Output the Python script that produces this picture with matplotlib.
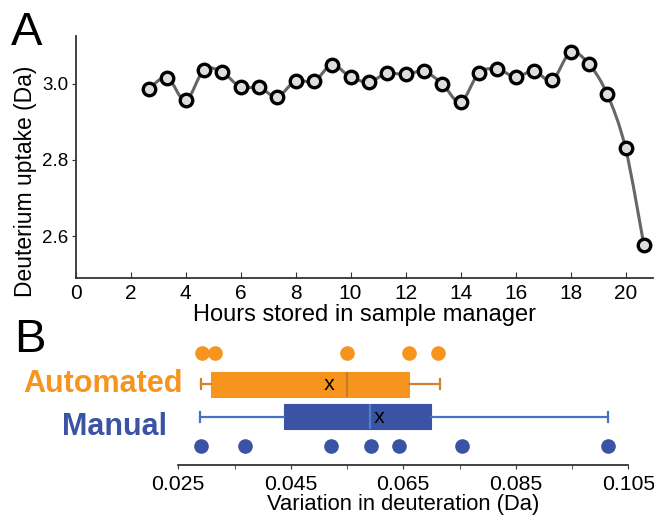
import numpy as np
import matplotlib
matplotlib.use("Agg")
import matplotlib.pyplot as plt
from matplotlib.path import Path
from matplotlib.patches import PathPatch

plt.rcParams['font.family'] = ['Liberation Sans', 'DejaVu Sans']
plt.rcParams['mathtext.fontset'] = 'custom'
plt.rcParams['mathtext.sf'] = 'Liberation Sans'

# --- Panel A data ---
hours = [2.67, 3.33, 4.0, 4.67, 5.33, 6.0, 6.67, 7.33, 8.0, 8.67, 9.33, 10.0, 10.67, 11.33,
         12.0, 12.67, 13.33, 14.0, 14.67, 15.33, 16.0, 16.67, 17.33, 18.0, 18.67, 19.33,
         20.0, 20.67]
uptake = [2.987, 3.016, 2.956, 3.036, 3.030, 2.991, 2.990, 2.966, 3.007, 3.006, 3.049, 3.017,
          3.005, 3.027, 3.024, 3.032, 3.000, 2.952, 3.028, 3.038, 3.018, 3.033, 3.009, 3.082,
          3.051, 2.973, 2.831, 2.576]

# --- Panel B data ---
groups = ['Automated', 'Manual']
auto_points = [0.0293, 0.0316, 0.0550, 0.0660, 0.0712]
manual_points = [0.0290, 0.0369, 0.0521, 0.0592, 0.0642, 0.0755, 0.1014]
# box stats: whislo, q1, med, q3, whishi, mean
auto_box = [0.0290, 0.0309, 0.0550, 0.0661, 0.0715, 0.0518]
manual_box = [0.0289, 0.0438, 0.0590, 0.0699, 0.1014, 0.0606]

ORANGE = '#F7941D'
BLUE = '#3A53A4'
W, H = 654, 516

fig = plt.figure(figsize=(W / 100, H / 100), dpi=100)

def fig_rect(left, top, right, bottom):
    return [left / W, 1 - bottom / H, (right - left) / W, (bottom - top) / H]

# ---------- Panel A ----------
ax = fig.add_axes(fig_rect(75.6, 36, 653, 278))

# smoothed line (catmull-rom drawn as bezier through the data points)
x = np.array(hours)
y = np.array(uptake)
verts = [(x[0], y[0])]
codes = [Path.MOVETO]
for i in range(len(x) - 1):
    p0 = np.array([x[max(i - 1, 0)], y[max(i - 1, 0)]])
    p1 = np.array([x[i], y[i]])
    p2 = np.array([x[i + 1], y[i + 1]])
    p3 = np.array([x[min(i + 2, len(x) - 1)], y[min(i + 2, len(x) - 1)]])
    c1 = p1 + (p2 - p0) / 6
    c2 = p2 - (p3 - p1) / 6
    verts += [tuple(c1), tuple(c2), tuple(p2)]
    codes += [Path.CURVE4] * 3
ax.add_patch(PathPatch(Path(verts, codes), facecolor='none', edgecolor='#666666', lw=2.2, zorder=2))
ax.plot(hours, uptake, ls='none', marker='o', ms=9, mew=2.4, mec='black', mfc='#dddddd', zorder=3)

ax.set_xlim(0, 21)
ax.set_ylim(2.49, 3.125)
ax.set_xticks(range(0, 21, 2))
ax.set_yticks([2.6, 2.8, 3.0])
ax.set_yticklabels(['2.6', '2.8', '3.0'])
ax.spines[['top', 'right']].set_visible(False)
for s in ['left', 'bottom']:
    ax.spines[s].set_color('#333333')
    ax.spines[s].set_linewidth(1.3)
ax.tick_params(axis='x', direction='in', length=4, labelsize=15, pad=4, color='#333333')
ax.tick_params(axis='y', direction='out', length=3, labelsize=13.5, pad=2, color='#333333')
ax.set_xlabel('Hours stored in sample manager', fontsize=17, labelpad=1)
fig.text(26 / W, 1 - 181 / H, 'Deuterium uptake (Da)', rotation=90, fontsize=16.5,
         ha='center', va='center')
fig.text(27 / W, 1 - 33 / H, 'A', fontsize=34, ha='center', va='center')

# ---------- Panel B ----------
bx = fig.add_axes(fig_rect(178.3, 340, 628.3, 465))
bx.set_xlim(0.025, 0.105)
bx.set_ylim(0, 5)

pos_box = {'Automated': 3.24, 'Manual': 1.94}
pos_pts = {'Automated': 4.48, 'Manual': 0.76}
styles = {
    'Automated': (auto_box, auto_points, ORANGE, '#C97A2A', '#D4812F'),
    'Manual': (manual_box, manual_points, BLUE, '#4F7FC9', '#4472C4'),
}
for g in groups:
    b, pts, col, medc, whc = styles[g]
    stats = [dict(whislo=b[0], q1=b[1], med=b[2], q3=b[3], whishi=b[4], mean=b[5], fliers=[])]
    bx.bxp(stats, positions=[pos_box[g]], vert=False, widths=1.0, patch_artist=True,
           showmeans=True, manage_ticks=False,
           boxprops=dict(facecolor=col, edgecolor=col, lw=0.8),
           medianprops=dict(color=medc, lw=1.6),
           whiskerprops=dict(color=whc, lw=1.6),
           capprops=dict(color=whc, lw=1.6),
           meanprops=dict(marker=r'$\mathsf{x}$', markeredgecolor='none',
                          markerfacecolor='black', markersize=8, mew=0),
           capwidths=0.4)
    bx.plot(pts, [pos_pts[g]] * len(pts), ls='none', marker='o', ms=9.5, color=col, zorder=3)

bx.set_xticks([0.025, 0.045, 0.065, 0.085, 0.105])
bx.set_xticklabels(['0.025', '0.045', '0.065', '0.085', '0.105'])
bx.set_xticks([0.035, 0.055, 0.075, 0.095], minor=True)
bx.set_yticks([])
for s in ['top', 'right', 'left']:
    bx.spines[s].set_visible(False)
bx.spines['bottom'].set_color('#333333')
bx.spines['bottom'].set_linewidth(1.3)
bx.tick_params(axis='x', which='both', direction='out', length=3, labelsize=15.3, pad=4,
               color='#333333')
bx.set_xlabel('Variation in deuteration (Da)', fontsize=15.8, labelpad=0)

fig.text(183 / W, 1 - 384 / H, 'Automated', color=ORANGE, fontsize=22, fontweight='bold',
         ha='right', va='center')
fig.text(167 / W, 1 - 427 / H, 'Manual', color=BLUE, fontsize=22, fontweight='bold',
         ha='right', va='center')
fig.text(30 / W, 1 - 340 / H, 'B', fontsize=34, ha='center', va='center')

fig.savefig('out.png', dpi=100)
